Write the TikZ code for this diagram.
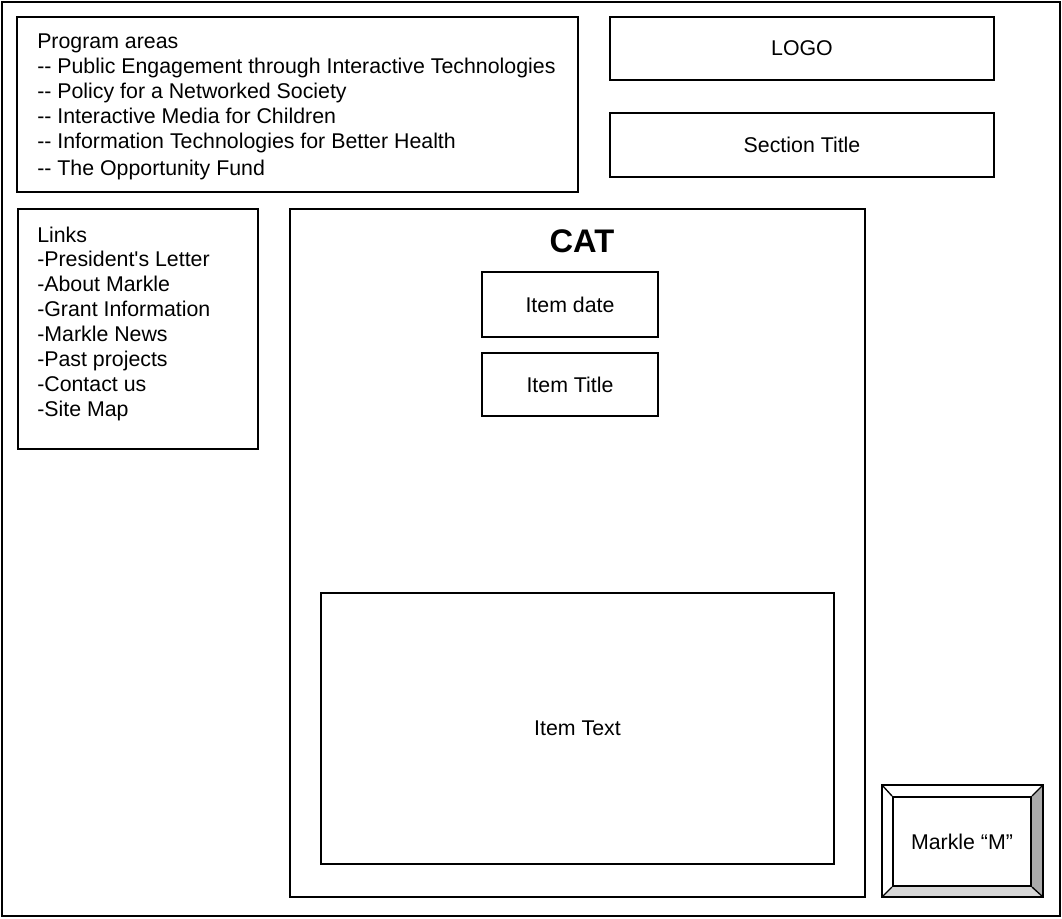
\documentclass[tikz,border=0pt]{standalone}
\usepackage{fontspec}
\setmainfont[Ligatures=TeXOff]{Liberation Sans}
\usetikzlibrary{positioning}
\definecolor{bevelDark}{gray}{0.67}
\definecolor{bevelLight}{gray}{0.84}

\begin{document}
\begin{tikzpicture}[x=0.75pt,y=-0.75pt]
			\tikzset{frame/.style = {draw, line width=1.5pt}}
			\tikzset{box/.style = {shape=rectangle, draw, line width=1.5pt, 
					inner sep = 0pt, font=\fontsize{16}{19}\selectfont}}
			\tikzset{entry/.style = {anchor=base west, inner sep=0pt, 
					font=\fontsize{16}{19}\selectfont}}
			
			\useasboundingbox (0,0) rectangle (1062,918);
			
			% page and boxes
			\draw[frame] (2,2) rectangle (1060,916);
			\draw[frame] (17,17) rectangle (578,192);
			\draw[frame] (18,209) rectangle (258,449);
			\draw[frame] (290,209) rectangle (865,897);
			
			\node[box, minimum width=384*0.75pt, minimum height=63*0.75pt] (logo) at (802,48.5) {LOGO};
			\node[box, minimum width=384*0.75pt, minimum height=64*0.75pt] (section) at (802,145) {Section Title};
			\node[box, minimum width=176*0.75pt, minimum height=65*0.75pt] (date) at (570,304.5) {Item date};
			\node[box, minimum width=176*0.75pt, minimum height=63*0.75pt] (title) at (570,384.5) {Item Title};
			\node[box, minimum width=513*0.75pt, minimum height=271*0.75pt] (itemtext) at (577.5,728.5) {Item Text};
			
			% program areas
			\node[entry] (prog0) at (37,48) {Program areas};
			\foreach \name/\y/\txt in {prog1/73/{-- Public Engagement through Interactive Technologies},
					prog2/98/{-- Policy for a Networked Society},
					prog3/123/{-- Interactive Media for Children},
					prog4/148/{-- Information Technologies for Better Health},
					prog5/175/{-- The Opportunity Fund}}
				\node[entry] (\name) at (37,\y) {\txt};
			
			% links
			\foreach \name/\txt [count=\i from 0] in {links/Links, 
					letter/-President's Letter, about/-About Markle, 
					grant/-Grant Information, news/-Markle News, 
					past/-Past projects, contact/-Contact us, sitemap/-Site Map}
				\node[entry] (\name) at (37,242+24.9*\i) {\txt};
			
			% category
			\node[font=\fontsize{24.5}{28}\selectfont\bfseries] (cat) at (582,241) {CAT};
			
			% markle button
			\fill[bevelDark] (1043,785) -- (1043,897) -- (1031,886) -- (1031,797) -- cycle;
			\fill[bevelLight] (882,897) -- (1043,897) -- (1031,886) -- (893,886) -- cycle;
			\draw[line width=1.5pt] (882,785) rectangle (1043,897);
			\node[box, minimum width=138*0.75pt, minimum height=89*0.75pt] (markle) at (962,841.5) {Markle “M”};
			\draw[line width=1pt] (882,785) -- (markle.north west);
			\draw[line width=1pt] (1043,785) -- (markle.north east);
			\draw[line width=1pt] (882,897) -- (markle.south west);
			\draw[line width=1pt] (1043,897) -- (markle.south east);
			
\end{tikzpicture}
\end{document}
